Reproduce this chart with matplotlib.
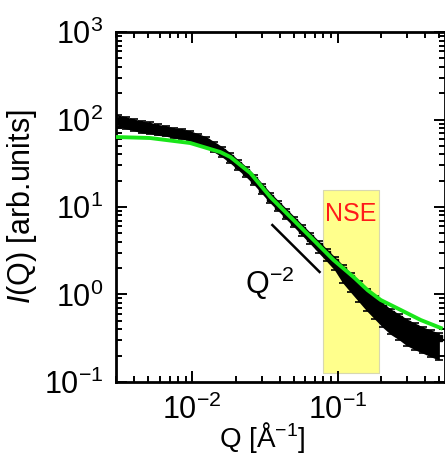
import numpy as np
import matplotlib
matplotlib.use("Agg")
from matplotlib import pyplot as plt
from matplotlib.ticker import FixedLocator, FixedFormatter, LogLocator, NullFormatter

plt.rcParams['font.family'] = ['Liberation Sans', 'DejaVu Sans']
plt.rcParams['mathtext.fontset'] = 'custom'
plt.rcParams['mathtext.rm'] = 'Liberation Sans'
plt.rcParams['mathtext.it'] = 'Liberation Sans:italic'
plt.rcParams['mathtext.default'] = 'regular'

# SANS data
q_data = [0.003088, 0.003505, 0.003981, 0.004520, 0.005133, 0.005829, 0.006618, 0.007514,
          0.008531, 0.009687, 0.01100, 0.01249, 0.01418, 0.01610, 0.01828, 0.02076,
          0.02357, 0.02676, 0.03039, 0.03450, 0.03918, 0.04448, 0.05051, 0.05735,
          0.06512, 0.07395, 0.08396, 0.09535, 0.1083, 0.1229, 0.1396, 0.1585,
          0.1800, 0.2043, 0.2320, 0.2635, 0.2992, 0.3396, 0.3856, 0.4379, 0.4972]
i_data = [96.1, 91.2, 86.5, 82.1, 80.0, 75.9, 73.9, 70.1,
          68.3, 64.8, 59.9, 55.3, 48.5, 42.5, 36.3, 30.2,
          25.1, 20.4, 16.1, 12.7, 10.3, 8.32, 6.74, 5.46,
          4.42, 3.58, 2.90, 2.35, 1.91, 1.54, 1.25, 1.01,
          0.843, 0.701, 0.599, 0.525, 0.460, 0.414, 0.373, 0.344, 0.318]
err_hi = [17, 16, 15, 14, 13, 12, 11, 10,
          10, 9.5, 9.0, 8.3, 7.3, 6.4, 5.4, 4.5,
          3.8, 3.1, 2.4, 1.9, 1.5, 1.25, 1.0, 0.82,
          0.66, 0.54, 0.44, 0.36, 0.28, 0.22, 0.18, 0.15,
          0.12, 0.10, 0.085, 0.075, 0.065, 0.058, 0.052, 0.048, 0.045]
err_lo = [14, 13, 12, 12, 11, 10, 9.5, 9,
          8.5, 8, 7.6, 7.0, 6.2, 5.4, 4.6, 3.8,
          3.2, 2.6, 2.1, 1.65, 1.35, 1.1, 0.9, 0.78,
          0.66, 0.58, 0.5, 0.45, 0.55, 0.48, 0.42, 0.36,
          0.32, 0.28, 0.25, 0.22, 0.20, 0.18, 0.16, 0.15, 0.14]

# model fit (green)
q_fit = [0.00299, 0.00513, 0.00969, 0.0156, 0.0183, 0.0251, 0.0345, 0.0474,
         0.0652, 0.0938, 0.129, 0.161, 0.198, 0.272, 0.373, 0.513]
i_fit = [63.1, 61.5, 53.9, 42.5, 37.3, 24.5, 13.0, 7.69,
         4.54, 2.48, 1.58, 1.12, 0.865, 0.665, 0.511, 0.414]

# NSE window and Q^-2 guide
nse_q = [0.080, 0.192]
nse_i = [0.127, 15.6]
guide_q = [0.0356, 0.0752]
guide_i = [6.22, 1.81]

q = np.array(q_data)
i = np.array(i_data)
lo = np.array(err_lo)
hi = np.array(err_hi)

fig = plt.figure(figsize=(4.45, 4.58), dpi=100)
ax = fig.add_axes([0.2607, 0.166, 0.739, 0.764])
ax.set_xscale('log')
ax.set_yscale('log')
ax.set_xlim(0.002992, 0.547)
ax.set_ylim(0.1, 1000)

ax.fill_between(nse_q, nse_i[0], nse_i[1], facecolor='#ffff8c', edgecolor='#d8d8b0', lw=0.8, zorder=1)
ax.text(np.sqrt(nse_q[0] * nse_q[1]), 8.3, 'NSE', color='#ff1a1a', fontsize=18,
        ha='center', va='center', zorder=2)

ax.fill_between(q, i - lo, i + hi, color='k', lw=0, zorder=3)
ax.errorbar(q, i, yerr=[lo, hi], fmt='s', ms=4, color='k', ecolor='k',
            elinewidth=1.2, capsize=3, capthick=1.2, zorder=3)
ax.plot(q_fit, i_fit, color='#19e619', lw=2.8, zorder=4)

ax.plot(guide_q, guide_i, color='k', lw=1.8, zorder=4)
ax.text(0.0232, 1.01, r'$\mathregular{Q^{-2}}$', fontsize=22, ha='left', va='baseline')

ax.xaxis.set_major_locator(FixedLocator([0.01, 0.1]))
ax.xaxis.set_major_formatter(FixedFormatter([r'$10^{-2}$', r'$10^{-1}$']))
ax.yaxis.set_major_locator(FixedLocator([0.1, 1, 10, 100, 1000]))
ax.yaxis.set_major_formatter(FixedFormatter([r'$10^{-1}$', r'$10^{0}$', r'$10^{1}$',
                                             r'$10^{2}$', r'$10^{3}$']))
for a in (ax.xaxis, ax.yaxis):
    a.set_minor_locator(LogLocator(base=10, subs=np.arange(2, 10), numticks=20))
    a.set_minor_formatter(NullFormatter())

ax.tick_params(which='both', direction='in', top=True, right=True, width=1.4)
ax.tick_params(which='major', length=8, labelsize=22, pad=9)
ax.tick_params(which='minor', length=4.5)
for s in ax.spines.values():
    s.set_linewidth(2)

ax.set_xlabel(r'Q [Å$^{-1}$]', fontsize=20)
ax.xaxis.set_label_coords(0.445, -0.11)
ax.set_ylabel(r'$\mathit{I}$(Q) [arb.units]', fontsize=22)
ax.yaxis.set_label_coords(-0.235, 0.50)

fig.savefig('out.png', dpi=100)
